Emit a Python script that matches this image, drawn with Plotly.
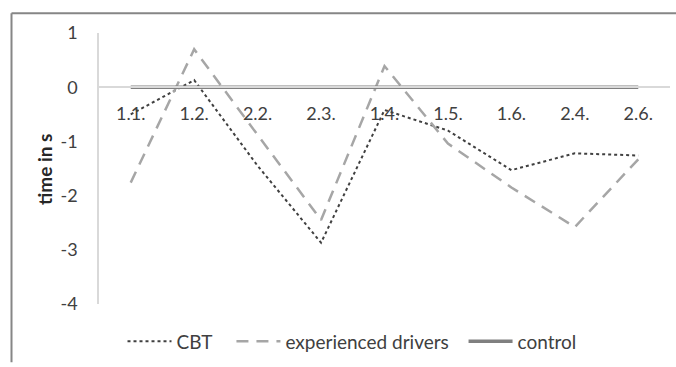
import plotly.graph_objects as go

categories = ["1.1.", "1.2.", "2.2.", "2.3.", "1.4.", "1.5.", "1.6.", "2.4.", "2.6."]
cbt = [-0.5, 0.13, -1.45, -2.87, -0.42, -0.8, -1.53, -1.22, -1.26]
experienced = [-1.76, 0.7, -0.88, -2.45, 0.39, -1.04, -1.85, -2.58, -1.33]
control = [0, 0, 0, 0, 0, 0, 0, 0, 0]
y_ticks = [1, 0, -1, -2, -3, -4]
y_ticktext = ["1", "0", "-1", "-2", "-3", "-4"]

FONT = "Lato"
W, H = 676, 367
L, R, T, B = 99, 6, 33, 59

fig = go.Figure()
fig.add_trace(go.Scatter(x=categories, y=cbt, name="CBT&nbsp;&nbsp;&nbsp;", mode="lines",
                         line=dict(color="#404040", width=2, dash="dot")))
fig.add_trace(go.Scatter(x=categories, y=experienced, name="experienced drivers&nbsp;&nbsp;", mode="lines",
                         line=dict(color="#a6a6a6", width=2.5, dash="12px,8px")))
fig.add_trace(go.Scatter(x=categories, y=control, name="control", mode="lines",
                         line=dict(color="#808080", width=3.5)))

pw = W - L - R
ph = H - T - B
def px2x(p):
    return (p - L) / pw
def py2y(p):
    return (H - B - p) / ph

fig.update_layout(
    width=W, height=H,
    margin=dict(l=L, r=R, t=T, b=B),
    paper_bgcolor="white", plot_bgcolor="white",
    font=dict(family=FONT, size=18, color="#404040"),
    showlegend=True,
    legend=dict(orientation="h", x=px2x(352), xanchor="center", y=py2y(346), yanchor="middle",
                font=dict(size=19, color="#404040"), itemwidth=44, tracegroupgap=0),
    xaxis=dict(type="category", range=[-0.5, 8.5], anchor="free", position=0.8,
               showline=True, linecolor="#d9d9d9", linewidth=1.5,
               showgrid=False, zeroline=False, ticks="outside", ticklen=10,
               tickcolor="rgba(0,0,0,0)", tickfont=dict(size=18, color="#404040")),
    yaxis=dict(range=[-4, 1], tickvals=y_ticks, ticktext=y_ticktext, showline=True,
               linecolor="#d9d9d9", linewidth=1.5, showgrid=False, zeroline=False,
               ticks="outside", ticklen=16, tickcolor="rgba(0,0,0,0)",
               tickfont=dict(size=18, color="#404040")),
)

fig.add_annotation(text="<b>time in s</b>", xref="paper", yref="paper",
                   x=px2x(45), y=py2y(172), xanchor="center", yanchor="middle",
                   textangle=-90, showarrow=False,
                   font=dict(family=FONT, size=19, color="#262626"))

frame = dict(color="#868686", width=2)
fig.add_shape(type="line", xref="paper", yref="paper",
              x0=px2x(11.5), x1=px2x(676), y0=py2y(13), y1=py2y(13), line=frame)
fig.add_shape(type="line", xref="paper", yref="paper",
              x0=px2x(11.5), x1=px2x(11.5), y0=py2y(13), y1=py2y(367), line=frame)

fig.write_html("out.html", config={"displayModeBar": False},
               post_script="document.body.style.margin='0';")
